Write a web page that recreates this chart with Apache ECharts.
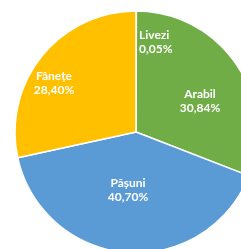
<!DOCTYPE html>
<html>
<head>
<meta charset="utf-8">
<script src="https://cdn.jsdelivr.net/npm/echarts@6/dist/echarts.min.js"></script>
<style>
html, body { margin: 0; padding: 0; background: #fff; }
#pie-chart { width: 241px; height: 249px; }
</style>
</head>
<body>
<div id="pie-chart"></div>
<script>
var categories = ['Livezi', 'Arabil', 'Pășuni', 'Fânețe'];
var shares = [0.05, 30.84, 40.70, 28.40];
var colors = ['#70AD47', '#70AD47', '#5B9BD5', '#FFC000'];
// label anchors, like excel "best fit" (Livezi is left aligned)
var labelPos = [[139, 42], [200, 101], [128, 190], [54, 83]];

function initPieChart() {
    var _chart = echarts.init(document.getElementById('pie-chart'));
    var data = [];
    for (var i = 0; i < categories.length; i++) {
        data.push({
            name: categories[i],
            value: shares[i],
            itemStyle: { color: colors[i] }
        });
    }
    var option = {
        animation: false,
        series: [{
            type: 'pie',
            center: [136, 132],
            radius: 121,
            startAngle: 90,
            clockwise: true,
            minAngle: 0,
            avoidLabelOverlap: false,
            itemStyle: {
                borderColor: '#fff',
                borderWidth: 1.5
            },
            label: {
                show: true,
                position: 'inside',
                color: '#fff',
                fontFamily: 'Lato',
                fontWeight: 'bold',
                fontSize: 12,
                lineHeight: 14,
                formatter: function (p) {
                    return p.name + '\n' + p.value.toFixed(2).replace('.', ',') + '%';
                }
            },
            labelLine: { show: false },
            labelLayout: function (params) {
                var pos = labelPos[params.dataIndex];
                return {
                    x: pos[0],
                    y: pos[1],
                    align: params.dataIndex === 0 ? 'left' : 'center',
                    verticalAlign: 'middle'
                };
            },
            data: data
        }]
    };
    _chart.setOption(option);
}
initPieChart();
</script>
</body>
</html>
